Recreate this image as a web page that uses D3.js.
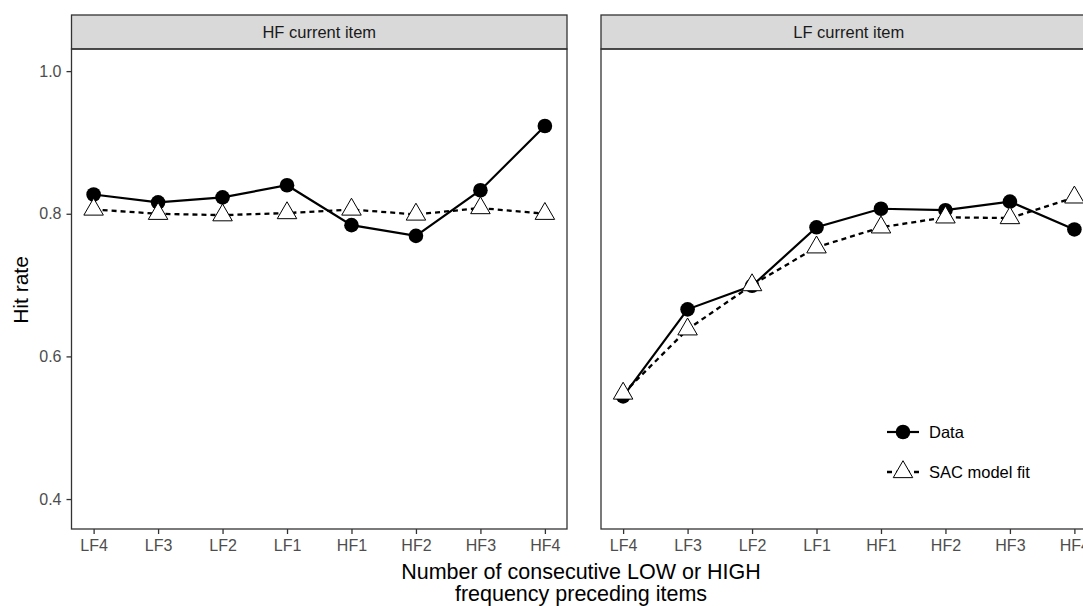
<!DOCTYPE html>
<html>
<head>
<meta charset="utf-8">
<script src="https://cdn.jsdelivr.net/npm/d3@7"></script>
<style>
  body { margin: 0; background: #fff; overflow: hidden; }
  text { font-family: "Liberation Sans", Arial, sans-serif; }
</style>
</head>
<body>
<div id="chart"></div>
<script>
// categories along the x axis
var categories = ["LF4", "LF3", "LF2", "LF1", "HF1", "HF2", "HF3", "HF4"];
var panelNames = ["HF current item", "LF current item"];

// hit rates
var hfData = [0.827, 0.816, 0.823, 0.840, 0.784, 0.769, 0.833, 0.923];
var hfModel = [0.806, 0.800, 0.798, 0.801, 0.806, 0.799, 0.808, 0.800];
var lfData = [0.544, 0.666, 0.699, 0.781, 0.807, 0.805, 0.817, 0.778];
var lfModel = [0.548, 0.638, 0.700, 0.753, 0.781, 0.795, 0.794, 0.823];

var yTicks = [0.4, 0.6, 0.8, 1.0];

var width = 1083, height = 606;
var plotTop = 49, plotBottom = 529, stripTop = 15;
var panels = [
  { name: panelNames[0], x0: 71.5, x1: 567, data: hfData, model: hfModel },
  { name: panelNames[1], x0: 601, x1: 1096.5, data: lfData, model: lfModel }
];

var svg = d3.select("#chart").append("svg")
  .attr("width", width)
  .attr("height", height);

var y = d3.scaleLinear().domain([0.358, 1.031]).range([plotBottom, plotTop]);

var triangle = d3.symbol().type(d3.symbolTriangle).size(165);

panels.forEach(function(p, i) {
  var x = d3.scalePoint().domain(categories).range([p.x0, p.x1]).padding(0.343);
  var g = svg.append("g");

  // strip
  g.append("rect")
    .attr("x", p.x0).attr("y", stripTop)
    .attr("width", p.x1 - p.x0).attr("height", plotTop - stripTop)
    .attr("fill", "#d9d9d9").attr("stroke", "#333").attr("stroke-width", 1.3);
  g.append("text")
    .attr("x", (p.x0 + p.x1) / 2).attr("y", 38)
    .attr("text-anchor", "middle")
    .attr("font-size", 16.5).attr("fill", "#1a1a1a")
    .text(p.name);

  // x axis
  var xAxis = g.append("g")
    .attr("transform", "translate(0," + plotBottom + ")")
    .call(d3.axisBottom(x).tickSize(5).tickPadding(6));
  xAxis.select(".domain").remove();
  xAxis.selectAll("line").attr("stroke", "#333").attr("stroke-width", 1.3);
  xAxis.selectAll("text").attr("font-size", 16).attr("fill", "#4d4d4d")
    .attr("font-family", "Liberation Sans, Arial, sans-serif");

  if (i === 0) {
    var yAxis = g.append("g")
      .attr("transform", "translate(" + p.x0 + ",0)")
      .call(d3.axisLeft(y).tickValues(yTicks).tickFormat(d3.format(".1f")).tickSize(5).tickPadding(5));
    yAxis.select(".domain").remove();
    yAxis.selectAll("line").attr("stroke", "#333").attr("stroke-width", 1.3);
    yAxis.selectAll("text").attr("font-size", 16).attr("fill", "#4d4d4d")
      .attr("font-family", "Liberation Sans, Arial, sans-serif");
  }

  var line = d3.line()
    .x(function(d, j) { return x(categories[j]); })
    .y(function(d) { return y(d); });

  g.append("path").datum(p.model)
    .attr("d", line).attr("fill", "none")
    .attr("stroke", "#000").attr("stroke-width", 2.3)
    .attr("stroke-dasharray", "5,4");

  g.append("path").datum(p.data)
    .attr("d", line).attr("fill", "none")
    .attr("stroke", "#000").attr("stroke-width", 2.2);

  g.selectAll(".dot").data(p.data).enter().append("circle")
    .attr("cx", function(d, j) { return x(categories[j]); })
    .attr("cy", function(d) { return y(d); })
    .attr("r", 7.3).attr("fill", "#000");

  g.selectAll(".tri").data(p.model).enter().append("path")
    .attr("d", triangle)
    .attr("transform", function(d, j) { return "translate(" + x(categories[j]) + "," + y(d) + ")"; })
    .attr("fill", "#fff").attr("stroke", "#000").attr("stroke-width", 1);

  // panel border
  g.append("rect")
    .attr("x", p.x0).attr("y", plotTop)
    .attr("width", p.x1 - p.x0).attr("height", plotBottom - plotTop)
    .attr("fill", "none").attr("stroke", "#333").attr("stroke-width", 1.3);
});

// legend inside right panel
var legend = svg.append("g").attr("transform", "translate(887,432)");
legend.append("line").attr("x1", 0).attr("x2", 32).attr("y1", 0).attr("y2", 0)
  .attr("stroke", "#000").attr("stroke-width", 2.2);
legend.append("circle").attr("cx", 16).attr("cy", 0).attr("r", 7.3).attr("fill", "#000");
legend.append("text").attr("x", 42).attr("y", 6).attr("font-size", 16.5).text("Data");

legend.append("line").attr("x1", 0).attr("x2", 32).attr("y1", 40).attr("y2", 40)
  .attr("stroke", "#000").attr("stroke-width", 2.3).attr("stroke-dasharray", "5,4");
legend.append("path").attr("d", triangle)
  .attr("transform", "translate(16,40)")
  .attr("fill", "#fff").attr("stroke", "#000").attr("stroke-width", 1);
legend.append("text").attr("x", 42).attr("y", 46).attr("font-size", 16.5).text("SAC model fit");

// axis titles
svg.append("text")
  .attr("transform", "translate(28,290) rotate(-90)")
  .attr("text-anchor", "middle").attr("font-size", 21).text("Hit rate");

svg.append("text").attr("x", 581).attr("y", 579)
  .attr("text-anchor", "middle").attr("font-size", 21.5)
  .text("Number of consecutive LOW or HIGH");
svg.append("text").attr("x", 581).attr("y", 601)
  .attr("text-anchor", "middle").attr("font-size", 21.5)
  .text("frequency preceding items");
</script>
</body>
</html>
